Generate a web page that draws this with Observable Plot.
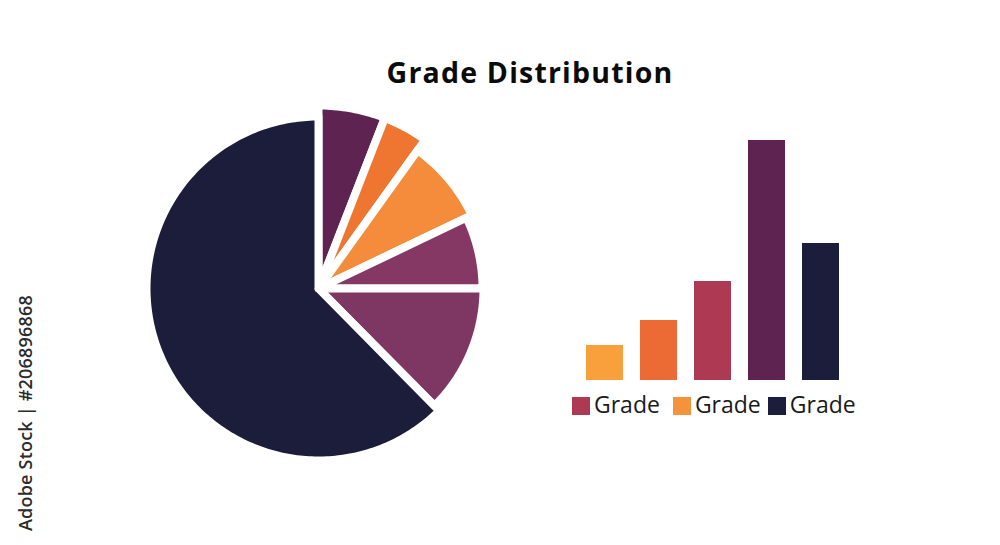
<!DOCTYPE html>
<html>
<head>
<meta charset="utf-8">
<script src="https://cdn.jsdelivr.net/npm/d3@7"></script>
<script src="https://cdn.jsdelivr.net/npm/@observablehq/plot@0.6"></script>
<style>
  html, body { margin: 0; padding: 0; background: #ffffff; }
  #page { position: relative; width: 1000px; height: 545px; overflow: hidden; background: #ffffff; font-family: "Open Sans", sans-serif; }
  #title { position: absolute; left: 0; width: 1060px; top: 53px; text-align: center; font-weight: 700; font-size: 28.5px; letter-spacing: 1.2px; color: #0b0b0b; line-height: normal; }
  #pie { position: absolute; left: 118px; top: 88px; }
  #bars { position: absolute; left: 560px; top: 120px; }
  #legend { position: absolute; left: 572px; top: 388px; display: flex; gap: 13px; font-size: 23px; color: #1a1a1a; line-height: normal; }
  .item { display: flex; align-items: center; }
  .item:nth-child(3) { margin-left: -6px; }
  .sw { width: 18px; height: 18px; margin-right: 4px; margin-top: 4px; }
  #credit { position: absolute; left: 25px; top: 531px; transform-origin: 0 0; transform: rotate(-90deg) translate(0, -50%); white-space: nowrap; font-size: 18px; font-weight: 600; letter-spacing: 0.2px; color: #2b2b2b; line-height: normal; }
</style>
</head>
<body>
<div id="page">
  <div id="title"></div>
  <div id="pie"></div>
  <div id="bars"></div>
  <div id="legend"></div>
  <div id="credit"></div>
</div>
<script>
// ---- data ----
const titleText = "Grade Distribution";
const creditText = "Adobe Stock | #206896868";

// pie slices, clockwise from 12 o'clock
const pieNames = ["S1", "S2", "S3", "S4", "S5", "S6"];
const pieShares = [5.9, 4.0, 8.0, 7.1, 12.6, 62.4];
const pieReach = [183, 183, 170, 164, 165, 172];
const pieColors = ["#5e2350", "#ef7631", "#f58c3c", "#853864", "#7e3663", "#1b1d3a"];

// bars
const barNames = ["B1", "B2", "B3", "B4", "B5"];
const barValues = [35, 60, 99, 240, 137];
const barColors = ["#f7a03c", "#ec6a34", "#ad3a52", "#5e2350", "#1b1d3a"];

// legend
const legendLabels = ["Grade", "Grade", "Grade"];
const legendColors = ["#ad3a52", "#f5933c", "#1b1d3a"];

// ---- title / credit ----
document.getElementById("title").textContent = titleText;
document.getElementById("credit").textContent = creditText;

// ---- pie as polygons in data space ----
const total = d3.sum(pieShares);
const piePts = [];
let acc = 0;
pieNames.forEach((name, i) => {
  const a0 = acc / total * 2 * Math.PI;
  acc += pieShares[i];
  const a1 = acc / total * 2 * Math.PI;
  const r = pieReach[i];
  const n = Math.max(2, Math.ceil((a1 - a0) / (Math.PI / 180)));
  piePts.push({name, x: 0, y: 0, color: pieColors[i]});
  for (let k = 0; k <= n; k++) {
    const a = a0 + (a1 - a0) * k / n;
    piePts.push({name, x: r * Math.sin(a), y: r * Math.cos(a), color: pieColors[i]});
  }
  piePts.push({name, x: 0, y: 0, color: pieColors[i]});
});

const pie = Plot.plot({
  width: 400, height: 400,
  margin: 0,
  x: {domain: [-200, 200], axis: null},
  y: {domain: [-200, 200], axis: null},
  color: {type: "identity"},
  marks: [
    Plot.line(piePts, {x: "x", y: "y", z: "name", fill: "color", stroke: "#ffffff", strokeWidth: 8, strokeLinejoin: "round", strokeLinecap: "round", curve: "linear"})
  ]
});
document.getElementById("pie").appendChild(pie);

// ---- bars ----
const barData = barNames.map((n, i) => ({name: n, value: barValues[i], color: barColors[i]}));
const bars = Plot.plot({
  width: 300, height: 270,
  marginLeft: 26, marginRight: 20, marginTop: 20, marginBottom: 10,
  x: {domain: barNames, paddingInner: 0.31, paddingOuter: 0, axis: null},
  y: {domain: [0, 240], axis: null},
  color: {type: "identity"},
  marks: [
    Plot.barY(barData, {x: "name", y: "value", fill: "color"})
  ]
});
document.getElementById("bars").appendChild(bars);

// ---- legend ----
const legend = document.getElementById("legend");
legendLabels.forEach((lab, i) => {
  const it = document.createElement("div");
  it.className = "item";
  const sw = document.createElement("div");
  sw.className = "sw";
  sw.style.background = legendColors[i];
  const tx = document.createElement("span");
  tx.textContent = lab;
  it.appendChild(sw);
  it.appendChild(tx);
  legend.appendChild(it);
});
</script>
</body>
</html>
